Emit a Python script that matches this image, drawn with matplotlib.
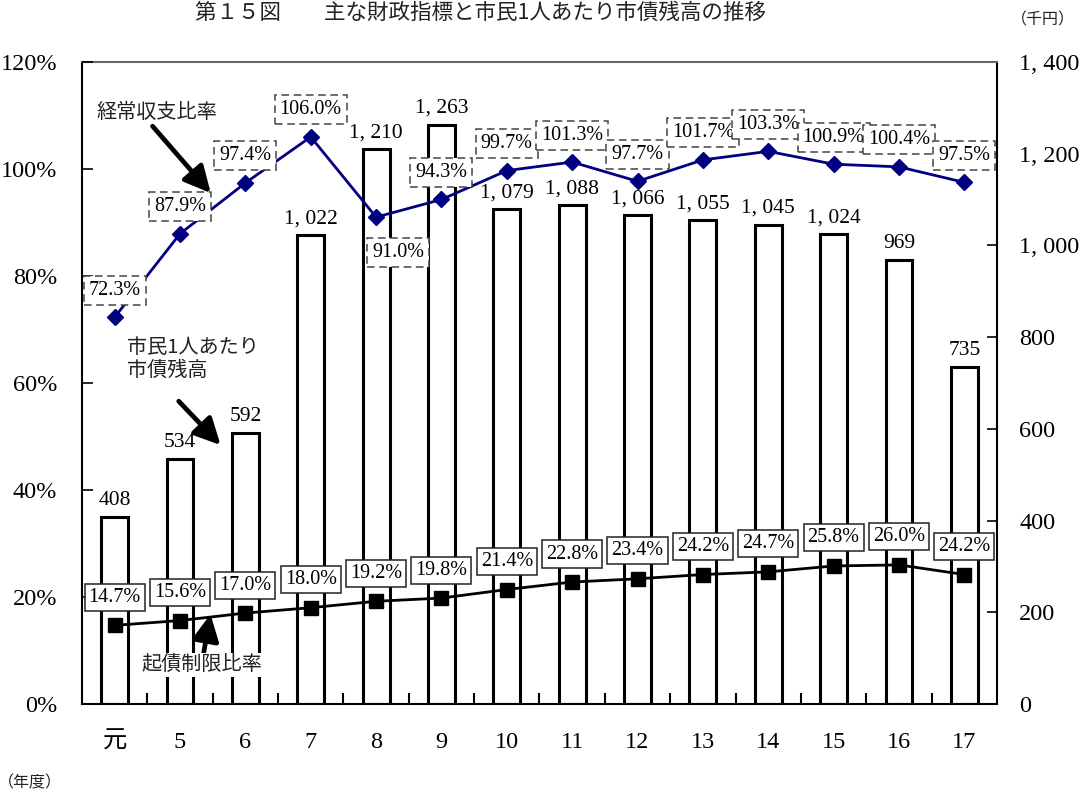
import matplotlib
matplotlib.use("Agg")
import matplotlib.pyplot as plt
import numpy as np

years = ["元", "5", "6", "7", "8", "9", "10", "11", "12", "13", "14", "15", "16", "17"]
debt_per_capita = [408, 534, 592, 1022, 1210, 1263, 1079, 1088, 1066, 1055, 1045, 1024, 969, 735]
current_balance_ratio = [72.3, 87.9, 97.4, 106.0, 91.0, 94.3, 99.7, 101.3, 97.7, 101.7, 103.3, 100.9, 100.4, 97.5]
debt_limit_ratio = [14.7, 15.6, 17.0, 18.0, 19.2, 19.8, 21.4, 22.8, 23.4, 24.2, 24.7, 25.8, 26.0, 24.2]
pct_ticks = [0, 20, 40, 60, 80, 100, 120]
yen_ticks = [0, 200, 400, 600, 800, 1000, 1200, 1400]

NUM = ["Liberation Serif", "Noto Sans CJK JP"]
JP = ["Noto Sans CJK JP", "DejaVu Sans"]

W, H = 1082, 792
fig = plt.figure(figsize=(W / 100, H / 100), dpi=100)
pos = [82 / W, 88 / H, 915 / W, 642 / H]

# bar axis (right scale)
axb = fig.add_axes(pos)
x = np.arange(len(years))
axb.bar(x, debt_per_capita, width=0.41, color="white", edgecolor="black", linewidth=2.2, zorder=2)
axb.set_ylim(0, 1400)
axb.set_xlim(-0.5, len(years) - 0.5)
axb.yaxis.tick_right()
axb.set_yticks(yen_ticks)
axb.set_yticklabels([f"{v:,}".replace(",", ", ") for v in yen_ticks], family=NUM, fontsize=17.5)
axb.tick_params(axis="y", direction="in", length=7, width=1.2, pad=16)
axb.set_xticks(x)
axb.set_xticklabels(years, family=NUM, fontsize=17.5)
axb.tick_params(axis="x", which="major", length=0, pad=20)
axb.set_xticks(np.arange(-0.5, len(years) - 0.5, 1)[1:], minor=True)
axb.tick_params(axis="x", which="minor", direction="in", length=8, width=1.5)
for v, xi in zip(debt_per_capita, x):
    axb.annotate(f"{v:,}".replace(",", ", "), (xi, v), xytext=(0, 7), textcoords="offset pixels",
                 ha="center", va="bottom", family=NUM, fontsize=15.5, zorder=3)
for s in axb.spines.values():
    s.set_linewidth(1.5)
axb.spines["top"].set_color("#666666")

# percent axis (left scale)
axp = fig.add_axes(pos, sharex=axb)
axp.patch.set_visible(False)
axp.set_ylim(0, 120)
axp.yaxis.tick_left()
axp.set_yticks(pct_ticks)
axp.set_yticklabels([f"{v}%" for v in pct_ticks], family=NUM, fontsize=17.5)
axp.tick_params(axis="y", direction="in", length=8, width=1.2, pad=18)
axp.tick_params(axis="x", which="both", length=0, labelbottom=False)
for s in axp.spines.values():
    s.set_visible(False)

axp.plot(x, current_balance_ratio, color="#000080", lw=2, marker="D", markersize=8.5, zorder=4)
axp.plot(x, debt_limit_ratio, color="black", lw=2, marker="s", markersize=10, zorder=4)

for i, (xi, v) in enumerate(zip(x, current_balance_ratio)):
    off = (22, -35) if i == 4 else (0, 27)
    axp.annotate(f"{v:.1f}%", (xi, v), xytext=off, textcoords="offset pixels", ha="center", va="center",
                 family=NUM, fontsize=14.5, zorder=5,
                 bbox=dict(boxstyle="square,pad=0.25", fc="white", ec="#444444", ls=(0, (5, 3)), lw=1.1))
for xi, v in zip(x, debt_limit_ratio):
    axp.annotate(f"{v:.1f}%", (xi, v), xytext=(0, 28), textcoords="offset pixels", ha="center", va="center",
                 family=NUM, fontsize=14.5, zorder=5,
                 bbox=dict(boxstyle="square,pad=0.2", fc="white", ec="#222222", lw=1.1))

arrow = dict(arrowstyle="-|>,head_length=1.0,head_width=0.5", lw=3.4, color="black", shrinkA=0, shrinkB=0,
             mutation_scale=16)
axp.text(0.65, 110.5, "経常収支比率", family=JP, fontsize=14.5, ha="center", va="center", color="#222222")
axp.annotate("", xy=(1.47, 95.5), xytext=(0.58, 108.0), arrowprops=arrow)
axp.text(0.19, 64.5, "市民1人あたり\n市債残高", family=JP, fontsize=14.5, ha="left", va="center",
         linespacing=1.1, color="#222222")
axp.annotate("", xy=(1.62, 48.4), xytext=(0.98, 56.6), arrowprops=arrow)
axp.text(1.34, 7.3, "起債制限比率", family=JP, fontsize=14.5, ha="center", va="center", color="#222222",
         bbox=dict(fc="white", ec="none", pad=1), zorder=5)
axp.annotate("", xy=(1.465, 16.8), xytext=(1.357, 9.2), arrowprops=arrow)

fig.text(480 / W, 1 - 13 / H, "第１５図　　主な財政指標と市民1人あたり市債残高の推移", family=JP,
         fontsize=15.5, ha="center", va="center", color="#222222")
fig.text(1043 / W, 1 - 20 / H, "（千円）", family=JP, fontsize=11.5, ha="center", va="center", color="#222222")
fig.text(30 / W, 1 - 783 / H, "（年度）", family=JP, fontsize=11.5, ha="center", va="center", color="#222222")

fig.savefig("out.png", dpi=100)
